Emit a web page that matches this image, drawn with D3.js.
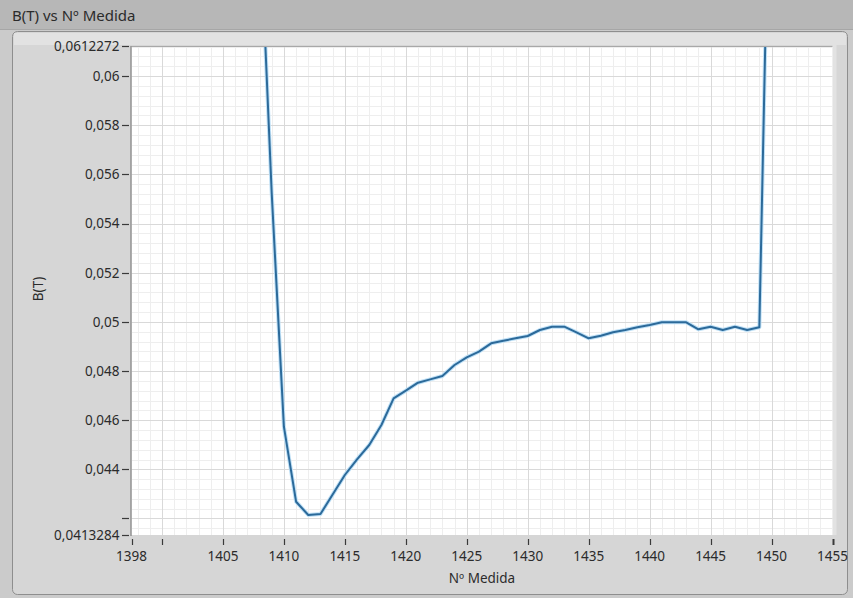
<!DOCTYPE html>
<html>
<head>
<meta charset="utf-8">
<script src="https://cdn.jsdelivr.net/npm/d3@7"></script>
<style>
  html, body { margin: 0; padding: 0; background: #cbcbcb; }
  svg { display: block; }
  text { font-family: "Segoe UI", "Noto Sans", "Open Sans", sans-serif; fill: #2b2b2b; }
</style>
</head>
<body>
<svg id="chart" width="853" height="598"></svg>
<script>
// Measurement index (Nº Medida) and magnetic field B(T)
const medida = [1408, 1409, 1410, 1411, 1412, 1413, 1414, 1415, 1416, 1417, 1418, 1419,
  1420, 1421, 1422, 1423, 1424, 1425, 1426, 1427, 1428, 1429, 1430, 1431, 1432, 1433,
  1434, 1435, 1436, 1437, 1438, 1439, 1440, 1441, 1442, 1443, 1444, 1445, 1446, 1447,
  1448, 1449, 1450];
const campoB = [0.0668, 0.05525, 0.045735, 0.042683, 0.042142, 0.042183, 0.042976, 0.04377,
  0.044409, 0.044991, 0.045804, 0.046891, 0.0472, 0.047526, 0.047662, 0.047798, 0.048246,
  0.048559, 0.048788, 0.049128, 0.049235, 0.049331, 0.049426, 0.04967, 0.049805, 0.049805,
  0.049577, 0.049332, 0.049438, 0.049577, 0.04967, 0.04978, 0.049874, 0.049983, 0.049983,
  0.049983, 0.049699, 0.049805, 0.04967, 0.049805, 0.04967, 0.04978, 0.0736];

// Axis ranges and ticks
const xMin = 1397.5, xMax = 1455;
const xTicks = [1400, 1405, 1410, 1415, 1420, 1425, 1430, 1435, 1440, 1445, 1450, 1455];
const xTickLabels = ["", "1405", "1410", "1415", "1420", "1425", "1430", "1435", "1440", "1445", "1450", "1455"];
const xMinLabel = "1398";
const yMin = 0.0413284, yMax = 0.0612272;
const yTicks = [0.042, 0.044, 0.046, 0.048, 0.05, 0.052, 0.054, 0.056, 0.058, 0.06];
const yTickLabels = ["", "0,044", "0,046", "0,048", "0,05", "0,052", "0,054", "0,056", "0,058", "0,06"];
const yMinLabel = "0,0413284", yMaxLabel = "0,0612272";

const titulo = "B(T) vs Nº Medida";
const xTitulo = "Nº Medida";
const yTitulo = "B(T)";

const svg = d3.select("#chart");
const W = 853, H = 598;
const plot = { left: 131.5, right: 832.5, top: 46, bottom: 535 };

// Window frame: title bar and panel
svg.append("rect").attr("x", 0).attr("y", 0).attr("width", W).attr("height", H).attr("fill", "#cbcbcb");
svg.append("rect").attr("x", 0).attr("y", 0).attr("width", W).attr("height", 29).attr("fill", "#b7b7b7");
svg.append("line").attr("x1", 0).attr("x2", W).attr("y1", 29.5).attr("y2", 29.5).attr("stroke", "#a6a6a6");
svg.append("text").attr("x", 12).attr("y", 21).attr("font-size", 15).text(titulo);

svg.append("rect").attr("x", 12.5).attr("y", 31.5).attr("width", 835).attr("height", 563)
  .attr("rx", 5).attr("fill", "#d6d6d6").attr("stroke", "#8e8e8e");
svg.append("rect").attr("x", 14).attr("y", 33).attr("width", 832).attr("height", 12)
  .attr("fill", "#e2e2e2");
svg.append("rect").attr("x", plot.right).attr("y", 33).attr("width", 4).attr("height", plot.bottom - 33)
  .attr("fill", "#e2e2e2");

const x = d3.scaleLinear().domain([xMin, xMax]).range([plot.left, plot.right]);
const y = d3.scaleLinear().domain([yMin, yMax]).range([plot.bottom, plot.top]);

// Plot background
svg.append("rect").attr("x", plot.left).attr("y", plot.top)
  .attr("width", plot.right - plot.left).attr("height", plot.bottom - plot.top).attr("fill", "#ffffff");

// Minor grid
const xMinor = d3.range(1398, 1455, 1).filter(v => v % 5 !== 0 && v !== 1400);
const yMinor = d3.range(41.6, 61.3, 0.4).map(v => v / 1000).filter(v => v > yMin && v < yMax && Math.abs((v * 1000) % 2) > 0.01 && Math.abs((v * 1000) % 2 - 2) > 0.01);
const grid = svg.append("g");
grid.selectAll(".xm").data(xMinor).join("line")
  .attr("x1", d => Math.round(x(d)) + 0.5).attr("x2", d => Math.round(x(d)) + 0.5)
  .attr("y1", plot.top).attr("y2", plot.bottom).attr("stroke", "#eeeeee");
grid.selectAll(".ym").data(yMinor).join("line")
  .attr("y1", d => Math.round(y(d)) + 0.5).attr("y2", d => Math.round(y(d)) + 0.5)
  .attr("x1", plot.left).attr("x2", plot.right).attr("stroke", "#eeeeee");
// Major grid
grid.selectAll(".xM").data(xTicks.slice(0, -1)).join("line")
  .attr("x1", d => Math.round(x(d)) + 0.5).attr("x2", d => Math.round(x(d)) + 0.5)
  .attr("y1", plot.top).attr("y2", plot.bottom).attr("stroke", "#d9d9d9");
grid.selectAll(".yM").data(yTicks).join("line")
  .attr("y1", d => Math.round(y(d)) + 0.5).attr("y2", d => Math.round(y(d)) + 0.5)
  .attr("x1", plot.left).attr("x2", plot.right).attr("stroke", "#d9d9d9");

// Data curve, clipped to the plot area
svg.append("clipPath").attr("id", "clip").append("rect")
  .attr("x", plot.left).attr("y", plot.top)
  .attr("width", plot.right - plot.left).attr("height", plot.bottom - plot.top);
const pts = medida.map((m, i) => [m, campoB[i]]);
const line = d3.line().x(d => x(d[0])).y(d => y(d[1]));
const curve = svg.append("g").attr("clip-path", "url(#clip)");
curve.append("path").datum(pts).attr("d", line).attr("fill", "none")
  .attr("stroke", "#bfe0f6").attr("stroke-width", 4).attr("stroke-linejoin", "round");
curve.append("path").datum(pts).attr("d", line).attr("fill", "none")
  .attr("stroke", "#2c6a9a").attr("stroke-width", 2).attr("stroke-linejoin", "round");

// Plot border
svg.append("line").attr("x1", plot.left).attr("x2", plot.right).attr("y1", plot.top + 0.5).attr("y2", plot.top + 0.5).attr("stroke", "#a8a8a8");
svg.append("line").attr("x1", plot.left - 0.5).attr("x2", plot.left - 0.5).attr("y1", plot.top).attr("y2", plot.bottom + 1).attr("stroke", "#6f6f6f");

// Y axis ticks and labels
const yAxisG = svg.append("g");
const yAll = [yMin].concat(yTicks).concat([yMax]);
const yAllLabels = [yMinLabel].concat(yTickLabels).concat([yMaxLabel]);
yAxisG.selectAll("line").data(yAll).join("line")
  .attr("x1", 122).attr("x2", 129)
  .attr("y1", d => Math.round(y(d)) + 0.5).attr("y2", d => Math.round(y(d)) + 0.5)
  .attr("stroke", "#3a3a3a").attr("stroke-width", 1.2);
yAxisG.selectAll("text").data(yAll).join("text")
  .attr("x", 119.5).attr("y", d => y(d)).attr("dy", "0.36em")
  .attr("text-anchor", "end").attr("font-size", 13.5)
  .text((d, i) => yAllLabels[i]);

// X axis ticks and labels
const xAxisG = svg.append("g");
const xAll = [xMin].concat(xTicks);
const xAllLabels = [xMinLabel].concat(xTickLabels);
xAxisG.selectAll("line").data(xAll).join("line")
  .attr("x1", d => Math.round(x(d)) + 0.5).attr("x2", d => Math.round(x(d)) + 0.5)
  .attr("y1", 539).attr("y2", 545)
  .attr("stroke", "#3a3a3a").attr("stroke-width", (d, i) => i === xAll.length - 1 ? 2 : 1.2);
xAxisG.selectAll("text").data(xAll).join("text")
  .attr("x", d => x(d)).attr("y", 561)
  .attr("text-anchor", "middle").attr("font-size", 13.5)
  .text((d, i) => xAllLabels[i]);

// Axis titles
svg.append("text").attr("x", (plot.left + plot.right) / 2).attr("y", 583)
  .attr("text-anchor", "middle").attr("font-size", 13.5).text(xTitulo);
svg.append("text").attr("transform", "translate(43,289) rotate(-90)")
  .attr("text-anchor", "middle").attr("font-size", 13.5).text(yTitulo);
</script>
</body>
</html>
